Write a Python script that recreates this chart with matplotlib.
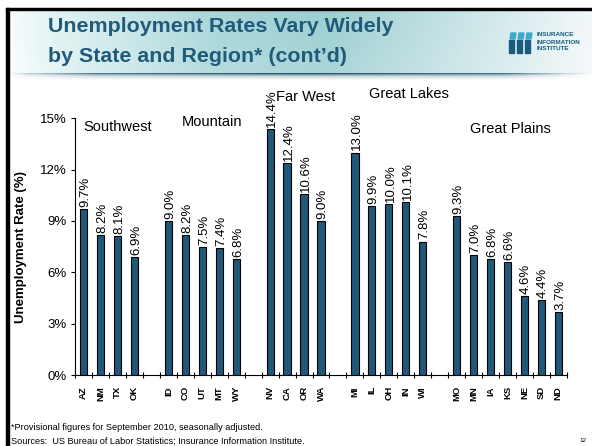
import matplotlib.pyplot as plt
import numpy as np
from matplotlib.patches import Rectangle, Polygon

plt.rcParams["font.family"] = ["Liberation Sans", "DejaVu Sans"]

# September 2010 unemployment rates by region (%)
southwest_states = ["AZ", "NM", "TX", "OK"]
southwest_rates = [9.7, 8.2, 8.1, 6.9]
mountain_states = ["ID", "CO", "UT", "MT", "WY"]
mountain_rates = [9.0, 8.2, 7.5, 7.4, 6.8]
farwest_states = ["NV", "CA", "OR", "WA"]
farwest_rates = [14.4, 12.4, 10.6, 9.0]
lakes_states = ["MI", "IL", "OH", "IN", "WI"]
lakes_rates = [13.0, 9.9, 10.0, 10.1, 7.8]
plains_states = ["MO", "MN", "IA", "KS", "NE", "SD", "ND"]
plains_rates = [9.3, 7.0, 6.8, 6.6, 4.6, 4.4, 3.7]

region_names = ["Southwest", "Mountain", "Far West", "Great Lakes", "Great Plains"]
y_ticks = [0, 3, 6, 9, 12, 15]

BAR_COLOR = "#1F5878"
TITLE_COLOR = "#215A7B"
W, H = 592, 446

groups = [(southwest_states, southwest_rates), (mountain_states, mountain_rates),
          (farwest_states, farwest_rates), (lakes_states, lakes_rates),
          (plains_states, plains_rates)]

# one empty slot between regions
pos, labels, rates = [], [], []
slot = 0
for states, vals in groups:
    for s, v in zip(states, vals):
        pos.append(slot)
        labels.append(s)
        rates.append(v)
        slot += 1
    slot += 1
n_slots = slot - 1

fig = plt.figure(figsize=(W / 100, H / 100), dpi=100)
fig.patch.set_facecolor("white")

# --- header band with teal glow ---
hdr = fig.add_axes([9 / W, 1 - 74 / H, (W - 9) / W, 64 / H])
xs = np.linspace(0, 1, 400)
stops = [0.0, 0.08, 0.35, 0.55, 0.8, 1.0]
cols = np.array([[0.97, 0.99, 0.99], [0.88, 0.95, 0.95], [0.66, 0.84, 0.85],
                 [0.61, 0.81, 0.82], [0.80, 0.90, 0.91], [0.95, 0.97, 0.98]])
row = np.stack([np.interp(xs, stops, cols[:, i]) for i in range(3)], axis=1)
vert = np.linspace(1.0, 0.85, 60)[:, None, None]
img = 1 - (1 - row[None, :, :]) * vert
hdr.imshow(img, aspect="auto", extent=[0, 1, 0, 1])
hdr.set_axis_off()

# shadow line under the header
sh = fig.add_axes([9 / W, 1 - 80 / H, (W - 9) / W, 7 / H])
shade = np.zeros((7, 400, 4))
shade[..., 0], shade[..., 1], shade[..., 2] = 0.14, 0.33, 0.43
horiz = np.interp(xs, [0, 0.025, 0.15, 0.5, 0.85, 0.955, 1], [0, 0.2, 0.75, 1.0, 0.8, 0.2, 0])
v_alpha = np.array([0.9, 1.0, 0.55, 0.3, 0.18, 0.1, 0.04])[:, None]
shade[..., 3] = v_alpha * horiz[None, :]
sh.imshow(shade, aspect="auto", extent=[0, 1, 0, 1])
sh.set_axis_off()

# slide border
fig.patches.append(Rectangle((6 / W, 0), 3 / W, 1 - 8 / H, transform=fig.transFigure,
                             color="black", zorder=10))
fig.patches.append(Rectangle((6 / W, 1 - 10 / H), 1 - 6 / W, 2 / H,
                             transform=fig.transFigure, color="black", zorder=10))

# title
fig.text(48 / W, 1 - 32 / H, "Unemployment Rates Vary Widely", fontsize=15.4,
         fontweight="bold", color=TITLE_COLOR, va="baseline")
fig.text(48 / W, 1 - 62 / H, "by State and Region* (cont\u2019d)", fontsize=15.4,
         fontweight="bold", color=TITLE_COLOR, va="baseline")

# logo
for x0 in [509, 517, 525]:
    fig.patches.append(Rectangle((x0 / W, 1 - 53 / H), 5 / W, 13 / H,
                                 transform=fig.transFigure, color="#1B5C7E", zorder=5))
    fig.patches.append(Polygon([((x0 + 1) / W, 1 - 39 / H), ((x0 + 6) / W, 1 - 39 / H),
                                ((x0 + 7) / W, 1 - 33 / H), ((x0 + 2) / W, 1 - 33 / H)],
                               closed=True, transform=fig.transFigure,
                               color="#3FA9C9", zorder=5))
for k, word in enumerate(["INSURANCE", "INFORMATION", "INSTITUTE"]):
    fig.text(537 / W, 1 - (35 + 7 * k) / H, word, fontsize=4.6, fontweight="bold",
             color="#1B5C7E", va="center", ha="left")

# --- chart ---
ax = fig.add_axes([75.2 / W, 1 - 375 / H, 491.6 / W, 256.7 / H])
ax.bar(pos, rates, width=0.43, color=BAR_COLOR, edgecolor="black", linewidth=0.8,
       zorder=3)
for x, v in zip(pos, rates):
    ax.text(x + 0.1, v + 0.12, f"{v:.1f}%", rotation=90, ha="center", va="bottom",
            fontsize=9.5, clip_on=False)

ax.set_xlim(-0.5, n_slots - 0.5)
ax.set_ylim(0, 15)
ax.set_yticks(y_ticks)
ax.set_yticklabels([f"{t}%" for t in y_ticks], fontsize=9.5)
ax.tick_params(axis="y", length=3, width=0.8, pad=3)
ax.set_xticks(pos)
ax.set_xticklabels(labels, rotation=90, fontsize=6.8, fontweight="bold")
ax.tick_params(axis="x", which="major", length=0, pad=8)
ax.set_xticks(np.arange(-0.5, n_slots, 1.0), minor=True)
ax.tick_params(axis="x", which="minor", direction="inout", length=5, width=0.8)
for side in ["top", "right"]:
    ax.spines[side].set_visible(False)
ax.spines["left"].set_linewidth(0.8)
ax.spines["bottom"].set_linewidth(0.8)
ax.set_facecolor("none")

ax.set_ylabel("Unemployment Rate (%)", fontsize=9.5, fontweight="bold")
ax.yaxis.set_label_coords(-0.099, 0.5)

# region names
region_xy = [(0.0, 14.5), (5.8, 14.8), (11.35, 16.25), (16.83, 16.4), (22.8, 14.4)]
for name, (rx, ry) in zip(region_names, region_xy):
    ax.text(rx, ry, name, fontsize=10.5, ha="left", va="center", clip_on=False)

# footnotes
fig.text(11 / W, 1 - 428 / H, "*Provisional figures for September 2010, seasonally adjusted.",
         fontsize=6.6, va="center")
fig.text(11 / W, 1 - 441 / H,
         "Sources:  US Bureau of Labor Statistics; Insurance Information Institute.",
         fontsize=6.6, va="center")
fig.text(583 / W, 1 - 441 / H, "12", fontsize=4.5, ha="center", va="center")

fig.savefig("out.png", dpi=100)
